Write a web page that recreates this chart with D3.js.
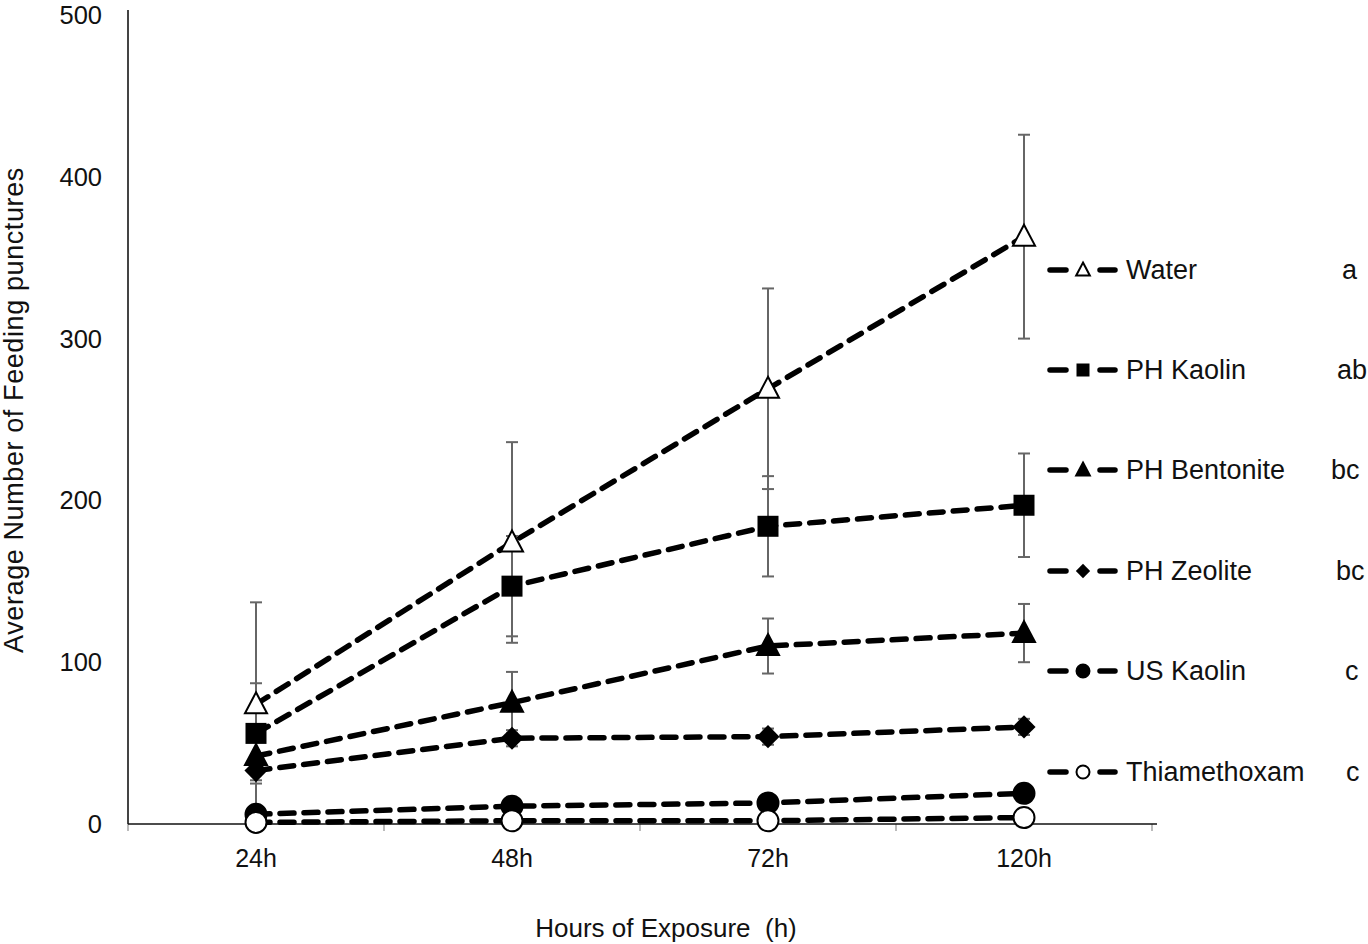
<!DOCTYPE html>
<html><head><meta charset="utf-8">
<script src="https://cdn.jsdelivr.net/npm/d3@7"></script>
<style>body{margin:0;background:#fff}svg{display:block}text{font-family:"Liberation Sans",Arial,sans-serif;fill:#111}</style>
</head><body>
<svg id="c" width="1368" height="944"></svg>
<script>
const categories = ["24h","48h","72h","120h"];
const seriesNames = ["Water","PH Kaolin","PH Bentonite","PH Zeolite","US Kaolin","Thiamethoxam"];
const groupLetters = ["a","ab","bc","bc","c","c"];
const letterX = [1342,1337,1331,1336,1345,1346];
const water = [74,174,269,363];
const phKaolin = [56,147,184,197];
const phBentonite = [42,75,110,118];
const phZeolite = [33,53,54,60];
const usKaolin = [6,11,13,19];
const thiamethoxam = [1,2,2,4];
const waterErr = [63,62,62,63];
const phKaolinErr = [31,31,31,32];
const phBentoniteErr = [10,19,17,18];
const phZeoliteErr = [6,5,5,5];
const usKaolinErr = [2,2,3,3];
const thiamethoxamErr = [1,1,1,1];
const yTicks = [0,100,200,300,400,500];

const values = [water,phKaolin,phBentonite,phZeolite,usKaolin,thiamethoxam];
const errs = [waterErr,phKaolinErr,phBentoniteErr,phZeoliteErr,usKaolinErr,thiamethoxamErr];
const markers = ["triOpen","square","tri","diamond","circle","circleOpen"];

const svg = d3.select("#c");
const x = d3.scalePoint().domain(categories).range([128,1152]).padding(0.5);
const xb = d3.scaleBand().domain(categories).range([128,1152]);
const y = d3.scaleLinear().domain([0,500]).range([824,15]);

// y axis
svg.append("line").attr("x1",128).attr("x2",128).attr("y1",10).attr("y2",824).attr("stroke","#444").attr("stroke-width",2);
svg.selectAll(".yt").data(yTicks).enter().append("text")
  .attr("x",102).attr("y",d=>y(d)+9).attr("text-anchor","end").attr("font-size",25.5).text(d=>d);
// x axis ticks (between categories)
const bounds = categories.map(c=>xb(c)).concat([xb(categories[categories.length-1])+xb.bandwidth()]);
svg.selectAll(".xt").data(bounds).enter().append("line")
  .attr("x1",d=>d).attr("x2",d=>d).attr("y1",824).attr("y2",831).attr("stroke","#bbb").attr("stroke-width",2);
svg.append("line").attr("x1",128).attr("x2",1157).attr("y1",824).attr("y2",824).attr("stroke","#111").attr("stroke-width",1.5);
svg.selectAll(".xl").data(categories).enter().append("text")
  .attr("x",d=>x(d)).attr("y",867).attr("text-anchor","middle").attr("font-size",25).text(d=>d);

// titles
svg.append("text").attr("x",666).attr("y",937).attr("text-anchor","middle").attr("font-size",26).attr("xml:space","preserve").text("Hours of Exposure  (h)");
svg.append("text").attr("transform","translate(23,410) rotate(-90)").attr("text-anchor","middle").attr("font-size",27).attr("letter-spacing",0.6).text("Average Number of Feeding punctures");

function drawMarker(g, type, cx, cy, s){
  if(type==="triOpen"||type==="tri"){
    const h=s*0.95, w=s*1.05;
    g.append("path").attr("d",`M${cx},${cy-h*0.6}L${cx+w/2},${cy+h*0.45}L${cx-w/2},${cy+h*0.45}Z`)
      .attr("fill",type==="tri"?"#000":"#fff").attr("stroke","#000").attr("stroke-width",2);
  } else if(type==="square"){
    g.append("rect").attr("x",cx-s/2).attr("y",cy-s/2).attr("width",s).attr("height",s).attr("fill","#000");
  } else if(type==="diamond"){
    const r=s*0.55;
    g.append("path").attr("d",`M${cx},${cy-r}L${cx+r},${cy}L${cx},${cy+r}L${cx-r},${cy}Z`).attr("fill","#000");
  } else {
    g.append("circle").attr("cx",cx).attr("cy",cy).attr("r",s/2)
      .attr("fill",type==="circle"?"#000":"#fff").attr("stroke","#000").attr("stroke-width",2);
  }
}

const line = d3.line().x((d,i)=>x(categories[i])).y(d=>y(d));
// lines
values.forEach((vals)=>{
  svg.append("path").datum(vals).attr("d",line).attr("fill","none").attr("stroke","#000")
    .attr("stroke-width",5.5).attr("stroke-dasharray","14,10").attr("stroke-linecap","round");
});
// error bars
values.forEach((vals,si)=>{
  const g = svg.append("g").attr("stroke","#666").attr("stroke-width",2);
  vals.forEach((v,i)=>{
    const cx=x(categories[i]), e=errs[si][i];
    g.append("line").attr("x1",cx).attr("x2",cx).attr("y1",y(v+e)).attr("y2",y(Math.max(0,v-e)));
    g.append("line").attr("x1",cx-6).attr("x2",cx+6).attr("y1",y(v+e)).attr("y2",y(v+e));
    if(v-e>=0) g.append("line").attr("x1",cx-6).attr("x2",cx+6).attr("y1",y(v-e)).attr("y2",y(v-e));
  });
});
// markers
values.forEach((vals,si)=>{
  const g = svg.append("g");
  vals.forEach((v,i)=>drawMarker(g, markers[si], x(categories[i]), y(v), 21));
});

// legend
const legY = [270,370,470,571,671,772];
seriesNames.forEach((n,i)=>{
  const g = svg.append("g");
  const ly = legY[i];
  g.append("line").attr("x1",1050).attr("x2",1066).attr("y1",ly).attr("y2",ly).attr("stroke","#000").attr("stroke-width",5.5).attr("stroke-linecap","round");
  g.append("line").attr("x1",1100).attr("x2",1115).attr("y1",ly).attr("y2",ly).attr("stroke","#000").attr("stroke-width",5.5).attr("stroke-linecap","round");
  drawMarker(g, markers[i], 1083, ly, 13);
  g.append("text").attr("x",1126).attr("y",ly+9).attr("font-size",27).text(n);
  g.append("text").attr("x",letterX[i]).attr("y",ly+9).attr("font-size",27).text(groupLetters[i]);
});
</script>
</body></html>
